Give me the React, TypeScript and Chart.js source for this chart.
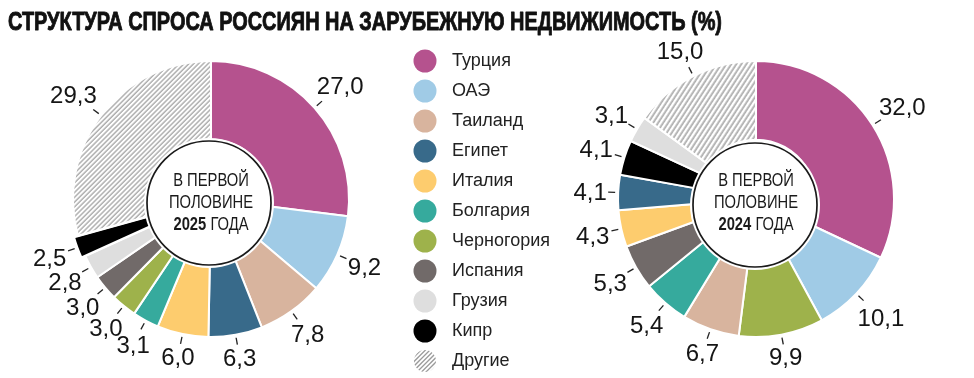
import React, { useEffect, useRef } from 'react';
import { Chart, registerables } from 'chart.js';

Chart.register(...registerables);

// ---------- data ----------
const TITLE = 'СТРУКТУРА СПРОСА РОССИЯН НА ЗАРУБЕЖНУЮ НЕДВИЖИМОСТЬ (%)';
const countries = ['Турция', 'ОАЭ', 'Таиланд', 'Египет', 'Италия', 'Болгария', 'Черногория', 'Испания', 'Грузия', 'Кипр', 'Другие'];
const countryColors = ['#b5528e', '#a0cbe6', '#d8b49e', '#386a8a', '#fdcc6e', '#36aa9d', '#9eb24b', '#716a69', '#dedede', '#000000', 'hatch'];

const categories2025 = ['Турция', 'ОАЭ', 'Таиланд', 'Египет', 'Италия', 'Болгария', 'Черногория', 'Испания', 'Грузия', 'Кипр', 'Другие'];
const values2025 = [27.0, 9.2, 7.8, 6.3, 6.0, 3.1, 3.0, 3.0, 2.8, 2.5, 29.3];

const categories2024 = ['Турция', 'ОАЭ', 'Черногория', 'Таиланд', 'Болгария', 'Испания', 'Италия', 'Египет', 'Кипр', 'Грузия', 'Другие'];
const values2024 = [32.0, 10.1, 9.9, 6.7, 5.4, 5.3, 4.3, 4.1, 4.1, 3.1, 15.0];

const centerLines = ['В ПЕРВОЙ', 'ПОЛОВИНЕ'];
const centerSuffix = 'ГОДА';
const year2025 = '2025';
const year2024 = '2024';

const FONT = '"Liberation Sans", Arial, Helvetica, sans-serif';
const fmt = (v: number) => v.toFixed(1).replace('.', ',');

function makeHatch(angle: number, scale: number): CanvasPattern | string {
  const tile = document.createElement('canvas');
  tile.width = 4;
  tile.height = 4;
  const t = tile.getContext('2d')!;
  t.fillStyle = '#ffffff';
  t.fillRect(0, 0, 4, 4);
  t.fillStyle = '#8c8c8c';
  t.fillRect(1.5, 0, 1.2, 4);
  const ctx = document.createElement('canvas').getContext('2d')!;
  const p = ctx.createPattern(tile, 'repeat');
  if (!p) return '#cccccc';
  p.setTransform(new DOMMatrix().rotateSelf(angle).scaleSelf(scale, scale));
  return p;
}

function makeIcon(color: string): HTMLCanvasElement {
  const c = document.createElement('canvas');
  c.width = 24;
  c.height = 24;
  const g = c.getContext('2d')!;
  if (color === 'hatch') {
    g.save();
    g.beginPath();
    g.arc(12, 12, 11, 0, Math.PI * 2);
    g.clip();
    g.strokeStyle = '#9a9a9a';
    g.lineWidth = 1.3;
    for (let k = -24; k < 48; k += 4.5) {
      g.beginPath();
      g.moveTo(k, 24);
      g.lineTo(k + 24, 0);
      g.stroke();
    }
    g.restore();
  } else {
    g.fillStyle = color;
    g.beginPath();
    g.arc(12, 12, 11.5, 0, Math.PI * 2);
    g.fill();
  }
  return c;
}

// ---------- plugins ----------
const titlePlugin = {
  id: 'mainTitle',
  afterDraw(chart: any, _a: any, opts: any) {
    if (!opts || !opts.text) return;
    const ctx = chart.ctx;
    ctx.save();
    ctx.font = `bold 26px ${FONT}`;
    ctx.fillStyle = '#111111';
    ctx.strokeStyle = '#111111';
    ctx.lineWidth = 0.9;
    ctx.lineJoin = 'round';
    ctx.textAlign = 'left';
    ctx.textBaseline = 'alphabetic';
    ctx.fillText(opts.text, 8, 30, 714);
    ctx.strokeText(opts.text, 8, 30, 714);
    ctx.restore();
  },
};

const centerDisc = {
  id: 'centerDisc',
  afterDatasetsDraw(chart: any, _a: any, opts: any) {
    const arc = chart.getDatasetMeta(0).data[0];
    if (!arc) return;
    const ctx = chart.ctx;
    const x = arc.x;
    const y = arc.y;
    const cx = x + opts.dx;
    const cy = y + opts.dy;
    ctx.save();
    ctx.beginPath();
    ctx.arc(cx, cy, opts.r + 3, 0, Math.PI * 2);
    ctx.fillStyle = '#ffffff';
    ctx.fill();
    ctx.beginPath();
    ctx.arc(cx, cy, opts.r, 0, Math.PI * 2);
    ctx.lineWidth = 1.7;
    ctx.strokeStyle = '#1a1a1a';
    ctx.stroke();

    const sx = 0.82;
    ctx.fillStyle = '#1a1a1a';
    ctx.textBaseline = 'alphabetic';
    const base = [y - 13, y + 9, y + 31];
    ctx.font = `18px ${FONT}`;
    opts.lines.forEach((ln: string, i: number) => {
      ctx.save();
      ctx.translate(x, base[i]);
      ctx.scale(sx, 1);
      ctx.textAlign = 'center';
      ctx.fillText(ln, 0, 0);
      ctx.restore();
    });
    ctx.font = `bold 18px ${FONT}`;
    const yw = ctx.measureText(opts.year).width;
    ctx.font = `18px ${FONT}`;
    const sw = ctx.measureText(' ' + opts.suffix).width;
    const total = yw + sw;
    ctx.save();
    ctx.translate(x, base[2]);
    ctx.scale(sx, 1);
    ctx.textAlign = 'left';
    ctx.font = `bold 18px ${FONT}`;
    ctx.fillText(opts.year, -total / 2, 0);
    ctx.font = `18px ${FONT}`;
    ctx.fillText(' ' + opts.suffix, -total / 2 + yw, 0);
    ctx.restore();
    ctx.restore();
  },
};

const sliceLabels = {
  id: 'sliceLabels',
  afterDatasetsDraw(chart: any) {
    const meta = chart.getDatasetMeta(0);
    const vals = chart.data.datasets[0].data as number[];
    const ctx = chart.ctx;
    const size = 24;
    ctx.save();
    ctx.font = `${size}px ${FONT}`;
    ctx.fillStyle = '#151515';
    ctx.strokeStyle = '#222222';
    ctx.lineWidth = 1.3;
    meta.data.forEach((arc: any, i: number) => {
      const { x, y, startAngle, endAngle, outerRadius } = arc.getProps(['x', 'y', 'startAngle', 'endAngle', 'outerRadius'], true);
      const a = (startAngle + endAngle) / 2;
      const c = Math.cos(a);
      const s = Math.sin(a);
      const off = ((arc.options && arc.options.offset) || 0) * 0.45;
      const r0 = outerRadius + off;
      ctx.beginPath();
      ctx.moveTo(x + c * (r0 + 3), y + s * (r0 + 3));
      ctx.lineTo(x + c * (r0 + 10), y + s * (r0 + 10));
      ctx.stroke();
      const text = fmt(vals[i]);
      const w = ctx.measureText(text).width;
      const h = size * 0.72;
      const ext = Math.abs(c) * w / 2 + Math.abs(s) * h / 2;
      const rc = r0 + 11 + ext;
      ctx.textAlign = 'center';
      ctx.textBaseline = 'alphabetic';
      ctx.fillText(text, x + c * rc, y + s * rc + h / 2);
    });
    ctx.restore();
  },
};

function colorsFor(cats: string[], hatch: any) {
  return cats.map((c) => {
    const col = countryColors[countries.indexOf(c)];
    return col === 'hatch' ? hatch : col;
  });
}

export default function App() {
  const leftRef = useRef<HTMLCanvasElement>(null);
  const rightRef = useRef<HTMLCanvasElement>(null);

  useEffect(() => {
    const hatchL = makeHatch(45, 0.85);
    const hatchR = makeHatch(33, 1.05);
    const icons = countryColors.map((c) => makeIcon(c));

    // legend geometry: legend box starts at x=395, chart area ends there
    const mctx = document.createElement('canvas').getContext('2d')!;
    mctx.font = `18px ${FONT}`;
    const maxText = Math.max(...countries.map((c) => mctx.measureText(c).width));
    const legendW = Math.floor(12 + 36 + 9 + maxText + 10) - 2;
    const legendLeft = 395;
    const padRight = 974 - legendLeft - legendW;

    const left = new Chart(leftRef.current!, {
      type: 'doughnut',
      data: {
        labels: categories2025,
        datasets: [
          {
            data: values2025,
            backgroundColor: colorsFor(categories2025, hatchL),
            borderColor: '#ffffff',
            borderWidth: 2,
            offset: categories2025.map((c) => (c === 'Кипр' ? 9 : 0)),
          },
        ],
      },
      options: {
        animation: false,
        responsive: false,
        events: [],
        radius: 138,
        cutout: '43%',
        layout: { padding: { left: 27, right: padRight, top: 16, bottom: 18 } },
        plugins: {
          tooltip: { enabled: false },
          legend: {
            display: true,
            position: 'right',
            align: 'end',
            maxWidth: legendW,
            labels: {
              usePointStyle: true,
              pointStyleWidth: 36,
              padding: 12,
              color: '#222222',
              font: { family: FONT, size: 18 },
              generateLabels: () =>
                countries.map((c, i) => ({
                  text: c,
                  fillStyle: countryColors[i] === 'hatch' ? '#cccccc' : countryColors[i],
                  strokeStyle: 'rgba(0,0,0,0)',
                  lineWidth: 0,
                  hidden: false,
                  index: i,
                  pointStyle: icons[i],
                  fontColor: '#222222',
                })),
            },
          },
          mainTitle: { text: TITLE },
          centerDisc: { dx: -2, dy: 4, r: 62, lines: centerLines, year: year2025, suffix: centerSuffix },
        } as any,
      },
      plugins: [sliceLabels, centerDisc, titlePlugin],
    } as any);

    const right = new Chart(rightRef.current!, {
      type: 'doughnut',
      data: {
        labels: categories2024,
        datasets: [
          {
            data: values2024,
            backgroundColor: colorsFor(categories2024, hatchR),
            borderColor: '#ffffff',
            borderWidth: 2,
          },
        ],
      },
      options: {
        animation: false,
        responsive: false,
        events: [],
        radius: 138,
        cutout: '43%',
        layout: { padding: { left: 0, right: 22, top: 10, bottom: 12 } },
        plugins: {
          tooltip: { enabled: false },
          legend: { display: false },
          centerDisc: { dx: -1, dy: 6, r: 62, lines: centerLines, year: year2024, suffix: centerSuffix },
        } as any,
      },
      plugins: [sliceLabels, centerDisc],
    } as any);

    return () => {
      left.destroy();
      right.destroy();
    };
  }, []);

  return (
    <div style={{ position: 'fixed', left: 0, top: 0, width: 974, height: 378, overflow: 'hidden', background: '#ffffff' }}>
      <canvas ref={leftRef} width={974} height={400} style={{ position: 'absolute', left: 0, top: 0, width: 974, height: 400, display: 'block' }} />
      <canvas ref={rightRef} width={414} height={400} style={{ position: 'absolute', left: 560, top: 0, width: 414, height: 400, display: 'block' }} />
    </div>
  );
}
